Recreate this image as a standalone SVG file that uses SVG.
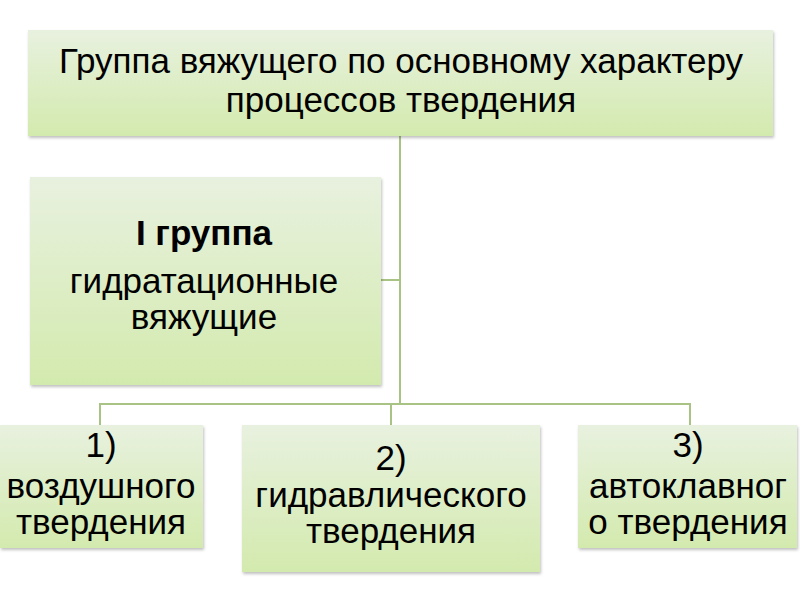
<svg xmlns="http://www.w3.org/2000/svg" width="800" height="600" viewBox="0 0 800 600">
<defs>
<linearGradient id="g" x1="0" y1="0" x2="0" y2="1">
<stop offset="0" stop-color="#e8f1df"/>
<stop offset="1" stop-color="#d3eaae"/>
</linearGradient>
<filter id="sh" x="-5%" y="-5%" width="110%" height="115%">
<feGaussianBlur in="SourceAlpha" stdDeviation="1.5"/>
<feOffset dx="1" dy="2" result="b"/>
<feComponentTransfer><feFuncA type="linear" slope="0.25"/></feComponentTransfer>
<feMerge><feMergeNode/><feMergeNode in="SourceGraphic"/></feMerge>
</filter>
</defs>
<style>
.box{fill:url(#g);filter:url(#sh)}
.t{font-family:"Liberation Sans","DejaVu Sans",sans-serif;font-size:35px;fill:#000;text-anchor:middle}
.b{font-weight:bold}
.ln{stroke:#a9c385;stroke-width:2;fill:none}
</style>
<rect width="800" height="600" fill="#fff"/>
<g id="connectors">
<path class="ln" d="M400,136 V404"/>
<path class="ln" d="M381,280 H400"/>
<path class="ln" d="M100,425 V404 H690 V425"/>
<path class="ln" d="M391,404 V425"/>
</g>
<g id="top">
<rect class="box" x="28" y="30" width="745" height="106"/>
<text class="t" x="401" y="73">Группа вяжущего по основному характеру</text>
<text class="t" x="401" y="112">процессов твердения</text>
</g>
<g id="group1">
<rect class="box" x="30" y="177" width="351" height="208"/>
<text class="t b" x="204" y="245">I группа</text>
<text class="t" x="204" y="293">гидратационные</text>
<text class="t" x="204" y="329">вяжущие</text>
</g>
<g id="n1">
<rect class="box" x="0" y="425" width="203" height="123"/>
<text class="t" x="101" y="457">1)</text>
<text class="t" x="101" y="498">воздушного</text>
<text class="t" x="101" y="534">твердения</text>
</g>
<g id="n2">
<rect class="box" x="242" y="425" width="298" height="147"/>
<text class="t" x="391" y="470">2)</text>
<text class="t" x="391" y="507">гидравлического</text>
<text class="t" x="391" y="543">твердения</text>
</g>
<g id="n3">
<rect class="box" x="578" y="425" width="219" height="123"/>
<text class="t" x="688" y="457">3)</text>
<text class="t" x="688" y="498">автоклавног</text>
<text class="t" x="688" y="534">о твердения</text>
</g>
</svg>
